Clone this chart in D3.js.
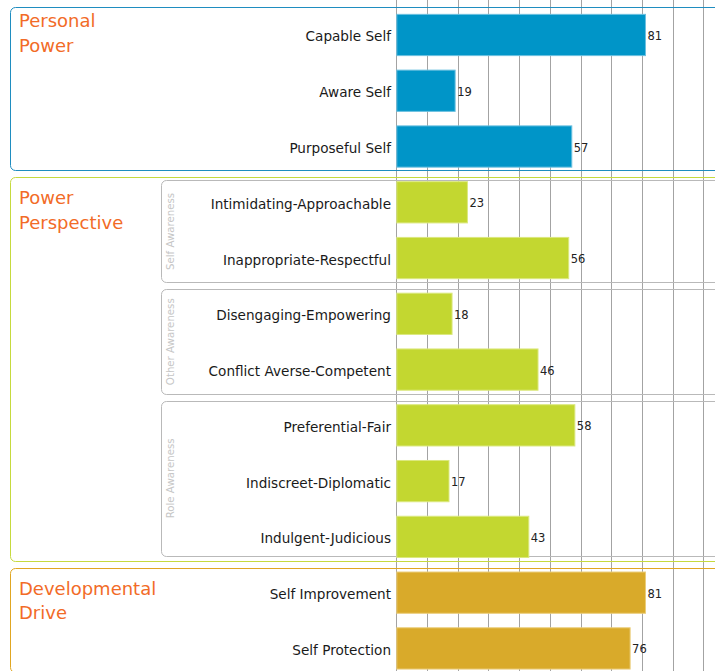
<!DOCTYPE html>
<html>
<head>
<meta charset="utf-8">
<script src="https://cdn.jsdelivr.net/npm/d3@7"></script>
<style>
html,body{margin:0;padding:0;background:#fff;overflow:hidden;}
svg{display:block;font-family:"DejaVu Sans",Verdana,sans-serif;}
</style>
</head>
<body>
<svg id="chart" width="715" height="671"></svg>
<script>
// ---- data ----
const categories = [
  "Capable Self","Aware Self","Purposeful Self",
  "Intimidating-Approachable","Inappropriate-Respectful",
  "Disengaging-Empowering","Conflict Averse-Competent",
  "Preferential-Fair","Indiscreet-Diplomatic","Indulgent-Judicious",
  "Self Improvement","Self Protection"
];
const values = [81,19,57,23,56,18,46,58,17,43,81,76];
const sectionNames = ["Personal Power","Power Perspective","Developmental Drive"];
const sectionSizes = [3,7,2];
const subgroupNames = ["Self Awareness","Other Awareness","Role Awareness"];
const subgroupSizes = [2,2,3];   // inside "Power Perspective"
const xTicks = [0,10,20,30,40,50,60,70,80,90,100,110];

// ---- styles ----
const barFill   = ["#0095c8","#c3d730","#d9aa2a"];
const barStroke = ["#6cc0e0","#dbe87e","#ebcd7a"];
const boxStroke = ["#1f8dc0","#c6da3e","#e0a622"];
const titleColor = "#f26b27";
const titleOffsets = [19.7, 27, 27];

const svg = d3.select("#chart");
const W = 715, H = 671;

const x = d3.scaleLinear().domain([0,100]).range([396.3, 703.3]);
const y = d3.scaleBand().domain(categories).range([6.6, 675.8])
  .paddingInner(0.26).paddingOuter(0.13);
const step = y.step();
const y0 = y.range()[0];

// section index of each row
const sectionOf = [];
sectionSizes.forEach((n,i)=>{ for(let k=0;k<n;k++) sectionOf.push(i); });

// gridlines
svg.append("g").selectAll("line").data(xTicks).join("line")
  .attr("x1", d=>Math.round(x(d))+0.5).attr("x2", d=>Math.round(x(d))+0.5)
  .attr("y1", 0).attr("y2", H)
  .attr("stroke", "#a3a3a3").attr("stroke-width", 1);

// section boxes
let start = 0;
const boxes = [];
sectionSizes.forEach((n,i)=>{
  const top = i === 0 ? y0 + 0.7 : y0 + start*step + 3.5;
  const bottom = y0 + (start+n)*step - 3.5;
  boxes.push({i, start, n, top, bottom});
  start += n;
});
svg.append("g").selectAll("rect").data(boxes).join("rect")
  .attr("x", 10.5).attr("y", d=>Math.round(d.top)+0.5)
  .attr("width", 760).attr("height", d=>Math.round(d.bottom)-Math.round(d.top))
  .attr("rx", 5).attr("ry", 5)
  .attr("fill", "none").attr("stroke", d=>boxStroke[d.i]).attr("stroke-width", 1);

// section titles
boxes.forEach(b=>{
  const t = svg.append("text")
    .attr("x", 19).attr("y", b.top + titleOffsets[b.i])
    .attr("fill", titleColor).attr("font-size", "18px");
  sectionNames[b.i].split(" ").forEach((w,k)=>{
    t.append("tspan").attr("x", 19).attr("dy", k===0 ? 0 : 24.5).text(w);
  });
});

// subgroup boxes inside section 1
const grp = boxes[1];
let s2 = grp.start;
const subs = [];
subgroupSizes.forEach((n,i)=>{
  const top = Math.max(y0 + s2*step + 4, grp.top + 3);
  const bottom = Math.min(y0 + (s2+n)*step - 3, grp.bottom - 5);
  subs.push({i, top, bottom});
  s2 += n;
});
svg.append("g").selectAll("rect").data(subs).join("rect")
  .attr("x", 161.5).attr("y", d=>Math.round(d.top)+0.5)
  .attr("width", 600).attr("height", d=>Math.round(d.bottom)-Math.round(d.top))
  .attr("rx", 5).attr("ry", 5)
  .attr("fill", "none").attr("stroke", "#b9b9b9").attr("stroke-width", 1);
svg.append("g").selectAll("text").data(subs).join("text")
  .attr("transform", d=>`translate(170,${(d.top+d.bottom)/2}) rotate(-90)`)
  .attr("text-anchor", "middle").attr("dominant-baseline", "central")
  .attr("fill", "#c6c6c6").attr("font-size", "10.2px")
  .text(d=>subgroupNames[d.i]);

// bars
svg.append("g").selectAll("rect").data(categories).join("rect")
  .attr("x", x(0)+0.5)
  .attr("y", d=>y(d)+0.5)
  .attr("width", (d,i)=>x(values[i])-x(0))
  .attr("height", y.bandwidth())
  .attr("fill", (d,i)=>barFill[sectionOf[i]])
  .attr("stroke", (d,i)=>barStroke[sectionOf[i]])
  .attr("stroke-width", 1);

// value labels
svg.append("g").selectAll("text").data(categories).join("text")
  .attr("x", (d,i)=>x(values[i])+2.5)
  .attr("y", d=>y(d)+y.bandwidth()/2+1.5)
  .attr("dominant-baseline", "central")
  .attr("fill", "#222").attr("font-size", "11.5px")
  .text((d,i)=>values[i]);

// category labels
svg.append("g").selectAll("text").data(categories).join("text")
  .attr("x", 391)
  .attr("y", d=>y(d)+y.bandwidth()/2+2)
  .attr("text-anchor", "end").attr("dominant-baseline", "central")
  .attr("fill", "#1a1a1a").attr("font-size", "13.6px")
  .text(d=>d);
</script>
</body>
</html>
